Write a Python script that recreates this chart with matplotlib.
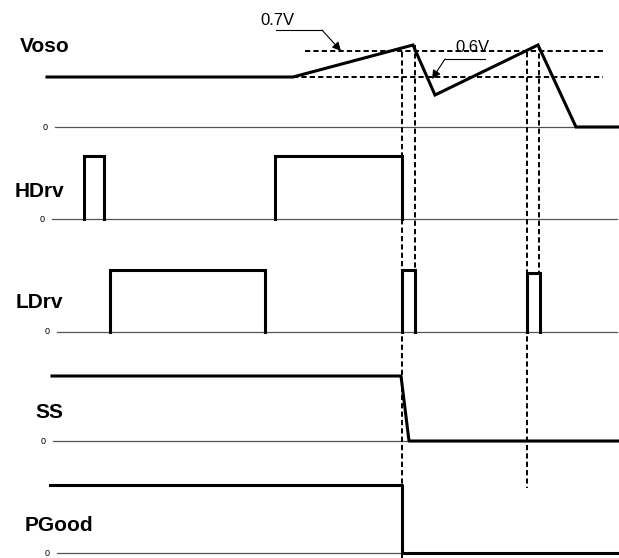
import matplotlib.pyplot as plt

plt.rcParams['font.family'] = ['Liberation Sans', 'DejaVu Sans']

# channel names, zero-line position (top-down) and start of the zero line
channels = ['Voso', 'HDrv', 'LDrv', 'SS', 'PGood']
baselines = [127, 219, 332, 441, 553]
zero_start = [55, 52, 57, 53, 57]
label_x = [20, 15, 16, 35, 25]
label_base = [52, 197, 308, 418, 531]

# Voso waveform (time, level above zero line)
voso_t = [47, 293, 413, 435, 538, 576, 619]
voso_v = [50, 50, 82, 32, 82, 0, 0]

# HDrv / LDrv pulses (start, end) and height
hdrv_pulses = [(84, 104), (275, 402)]
hdrv_high = [63, 63]
ldrv_pulses = [(110, 265), (402, 415), (527, 540)]
ldrv_high = [62, 62, 59]

# SS and PGood
ss_t = [52, 401, 409, 619]
ss_v = [65, 65, 0, 0]
pg_t = [50, 402, 402, 617]
pg_v = [68, 68, 0, 0]

# thresholds (level on Voso) and their extents
thr_names = ['0.7V', '0.6V']
thr_level = [76, 50]
thr_span = [(305, 603), (293, 603)]

# vertical dashed markers: x, top, bottom
markers_x = [402, 415, 527, 539]
markers_top = [52, 45, 52, 45]
markers_bot = [558, 270, 488, 273]

fig = plt.figure(figsize=(6.19, 5.58), dpi=100)
ax = fig.add_axes([0, 0, 1, 1])
ax.set_xlim(0, 619)
ax.set_ylim(558, 0)
ax.axis('off')

lw = 2.2
dash = (0, (2.7, 1.6))

# zero lines and labels
for name, b, xs, lx, lb in zip(channels, baselines, zero_start, label_x, label_base):
    ax.plot([xs, 617], [b, b], color='#555555', lw=0.9)
    ax.text(xs - 7, b, '0', fontsize=6.5, ha='right', va='center')
    ax.text(lx, lb, name, fontsize=15, fontweight='bold', ha='left', va='baseline')

# Voso
b = baselines[0]
ax.plot(voso_t, [b - v for v in voso_v], color='k', lw=lw, solid_joinstyle='miter')

# HDrv
b = baselines[1]
for (t0, t1), h in zip(hdrv_pulses, hdrv_high):
    ax.plot([t0, t0, t1, t1], [b, b - h, b - h, b], color='k', lw=lw,
            solid_joinstyle='miter')

# LDrv
b = baselines[2]
for (t0, t1), h in zip(ldrv_pulses, ldrv_high):
    ax.plot([t0, t0, t1, t1], [b, b - h, b - h, b], color='k', lw=lw,
            solid_joinstyle='miter')

# SS
b = baselines[3]
ax.plot(ss_t, [b - v for v in ss_v], color='k', lw=lw)

# PGood
b = baselines[4]
ax.plot(pg_t, [b - v for v in pg_v], color='k', lw=lw)

# threshold lines
b = baselines[0]
for lvl, (x0, x1) in zip(thr_level, thr_span):
    ax.plot([x0, x1], [b - lvl, b - lvl], color='k', lw=1.4, linestyle=dash)

# vertical markers
for x, y0, y1 in zip(markers_x, markers_top, markers_bot):
    ax.plot([x, x], [y0, y1], color='k', lw=1.4, linestyle=dash)

# threshold labels with leaders
ax.text(260, 25, thr_names[0], fontsize=12, ha='left', va='baseline')
ax.plot([276, 322], [30, 30], color='k', lw=0.8)
ax.annotate('', xy=(341, b - thr_level[0]), xytext=(322, 30),
            arrowprops=dict(arrowstyle='-|>', color='k', lw=0.8, mutation_scale=13,
                            shrinkA=0, shrinkB=0))

ax.text(455, 52, thr_names[1], fontsize=12, ha='left', va='baseline')
ax.plot([485, 445], [59, 59], color='k', lw=0.8)
ax.annotate('', xy=(432, b - thr_level[1] + 2), xytext=(445, 59),
            arrowprops=dict(arrowstyle='-|>', color='k', lw=0.8, mutation_scale=13,
                            shrinkA=0, shrinkB=0))

fig.savefig('out.png', dpi=100)
